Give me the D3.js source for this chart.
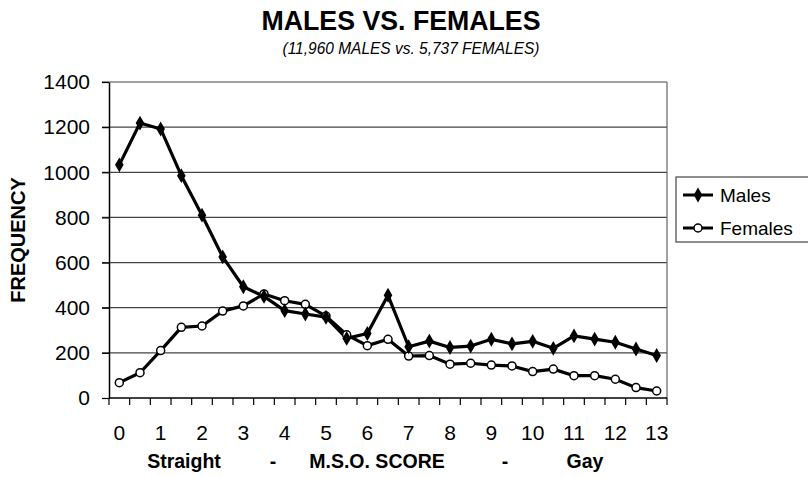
<!DOCTYPE html>
<html>
<head>
<meta charset="utf-8">
<script src="https://cdn.jsdelivr.net/npm/d3@7"></script>
<style>
  body { margin: 0; background: #fff; }
  text { font-family: "Liberation Sans", Arial, sans-serif; fill: #000; }
</style>
</head>
<body>
<script>
// categories: M.S.O. score in half steps
var scores = ["0","0.5","1","1.5","2","2.5","3","3.5","4","4.5","5","5.5","6","6.5",
              "7","7.5","8","8.5","9","9.5","10","10.5","11","11.5","12","12.5","13"];
var males = [1033,1218,1192,985,810,625,493,450,387,372,358,264,286,455,
             227,252,224,230,260,240,251,220,275,261,247,217,188];
var females = [68,112,210,313,319,385,408,461,431,415,363,280,232,260,
               186,188,150,154,146,142,117,128,99,99,83,46,31];
var yTicks = [0,200,400,600,800,1000,1200,1400];
var xLabels = ["0","1","2","3","4","5","6","7","8","9","10","11","12","13"];

var width = 808, height = 477;
var pLeft = 109, pRight = 667, pTop = 82, pBottom = 398;

var svg = d3.select("body").append("svg")
    .attr("width", width)
    .attr("height", height);

var x = d3.scaleBand().domain(scores).range([pLeft, pRight]).padding(0);
var y = d3.scaleLinear().domain([0, 1400]).range([pBottom, pTop]);
var cx = function(d){ return x(d) + x.bandwidth() / 2; };

//gridlines plus the little outward ticks
svg.selectAll(".grid")
  .data(yTicks.slice(1))
  .enter().append("line")
    .attr("class", "grid")
    .attr("x1", pLeft - 7).attr("x2", pRight)
    .attr("y1", function(d){ return y(d); })
    .attr("y2", function(d){ return y(d); })
    .attr("stroke", "#444").attr("stroke-width", 1.2);

// right border of the plot
svg.append("line")
    .attr("x1", pRight).attr("x2", pRight)
    .attr("y1", pTop).attr("y2", pBottom)
    .attr("stroke", "#666").attr("stroke-width", 1.2);

// y axis
var yAxis = svg.append("g")
    .attr("transform", "translate(" + pLeft + ",0)")
    .call(d3.axisLeft(y).tickValues(yTicks).tickFormat(d3.format("d"))
      .tickSize(7).tickSizeOuter(0).tickPadding(12));
yAxis.select(".domain").attr("stroke", "#000").attr("stroke-width", 1.5);
yAxis.selectAll(".tick line").attr("stroke", "#000").attr("stroke-width", 1.2);
yAxis.selectAll("text").style("font-size", "21px").style("font-family", "Liberation Sans, Arial, sans-serif");

// x axis baseline and boundary ticks
svg.append("line")
    .attr("x1", pLeft).attr("x2", pRight)
    .attr("y1", pBottom).attr("y2", pBottom)
    .attr("stroke", "#000").attr("stroke-width", 1.5);
svg.selectAll(".xtick")
  .data(scores.concat(["end"]))
  .enter().append("line")
    .attr("class", "xtick")
    .attr("x1", function(d){ return d === "end" ? pRight : x(d); })
    .attr("x2", function(d){ return d === "end" ? pRight : x(d); })
    .attr("y1", pBottom).attr("y2", pBottom + 7)
    .attr("stroke", "#000").attr("stroke-width", 1.2);

var xAxis = svg.append("g")
    .attr("transform", "translate(0," + pBottom + ")")
    .call(d3.axisBottom(x).tickValues(xLabels).tickSize(0).tickPadding(27));
xAxis.select(".domain").remove();
xAxis.selectAll("text").style("font-size", "21px").style("font-family", "Liberation Sans, Arial, sans-serif");

// lines
var line = d3.line()
    .x(function(d, i){ return cx(scores[i]); })
    .y(function(d){ return y(d); });

svg.append("path").datum(females)
    .attr("d", line).attr("fill", "none")
    .attr("stroke", "#000").attr("stroke-width", 3.2).attr("stroke-linejoin", "round");
svg.append("path").datum(males)
    .attr("d", line).attr("fill", "none")
    .attr("stroke", "#000").attr("stroke-width", 3.2).attr("stroke-linejoin", "round");

var diamond = d3.symbol().type(d3.symbolDiamond).size(64);

svg.selectAll(".fpt")
  .data(females)
  .enter().append("circle")
    .attr("class", "fpt")
    .attr("cx", function(d, i){ return cx(scores[i]); })
    .attr("cy", function(d){ return y(d); })
    .attr("r", 4)
    .attr("fill", "#fff").attr("stroke", "#000").attr("stroke-width", 1.5);

svg.selectAll(".mpt")
  .data(males)
  .enter().append("path")
    .attr("class", "mpt")
    .attr("d", diamond)
    .attr("transform", function(d, i){ return "translate(" + cx(scores[i]) + "," + y(d) + ")"; })
    .attr("fill", "#000");

// titles
svg.append("text")
    .attr("x", 401).attr("y", 30)
    .attr("text-anchor", "middle")
    .attr("textLength", 279).attr("lengthAdjust", "spacingAndGlyphs")
    .style("font-family", "Liberation Sans Narrow, Arial Narrow, Liberation Sans, sans-serif")
    .style("font-weight", "bold").style("font-size", "28px")
    .text("MALES VS. FEMALES");
svg.append("text")
    .attr("x", 411).attr("y", 54)
    .attr("text-anchor", "middle")
    .attr("textLength", 257).attr("lengthAdjust", "spacingAndGlyphs")
    .style("font-family", "Liberation Sans Narrow, Arial Narrow, Liberation Sans, sans-serif")
    .style("font-style", "italic").style("font-size", "16px")
    .text("(11,960 MALES vs. 5,737 FEMALES)");

svg.append("text")
    .attr("transform", "translate(25,240) rotate(-90)")
    .attr("text-anchor", "middle")
    .style("font-weight", "bold").style("font-size", "20px")
    .text("FREQUENCY");

// x title pieces
var xTitle = [["Straight", 184], ["-", 273], ["M.S.O. SCORE", 377], ["-", 505], ["Gay", 585]];
svg.selectAll(".xtitle")
  .data(xTitle)
  .enter().append("text")
    .attr("class", "xtitle")
    .attr("x", function(d){ return d[1]; })
    .attr("y", 468)
    .attr("text-anchor", "middle")
    .style("font-weight", "bold").style("font-size", "19.5px")
    .text(function(d){ return d[0]; });

// legend
var legend = svg.append("g");
legend.append("rect")
    .attr("x", 676).attr("y", 177)
    .attr("width", 150).attr("height", 65)
    .attr("fill", "#fff").attr("stroke", "#444").attr("stroke-width", 1.2);
var legItems = [["Males", 195], ["Females", 228]];
legItems.forEach(function(it, i){
  legend.append("line")
      .attr("x1", 683).attr("x2", 713)
      .attr("y1", it[1]).attr("y2", it[1])
      .attr("stroke", "#000").attr("stroke-width", 3);
  if (i === 0) {
    legend.append("path").attr("d", diamond)
        .attr("transform", "translate(698," + it[1] + ")").attr("fill", "#000");
  } else {
    legend.append("circle").attr("cx", 698).attr("cy", it[1]).attr("r", 4)
        .attr("fill", "#fff").attr("stroke", "#000").attr("stroke-width", 1.5);
  }
  legend.append("text")
      .attr("x", 720).attr("y", it[1] + 7)
      .style("font-size", "19px")
      .text(it[0]);
});
</script>
</body>
</html>
